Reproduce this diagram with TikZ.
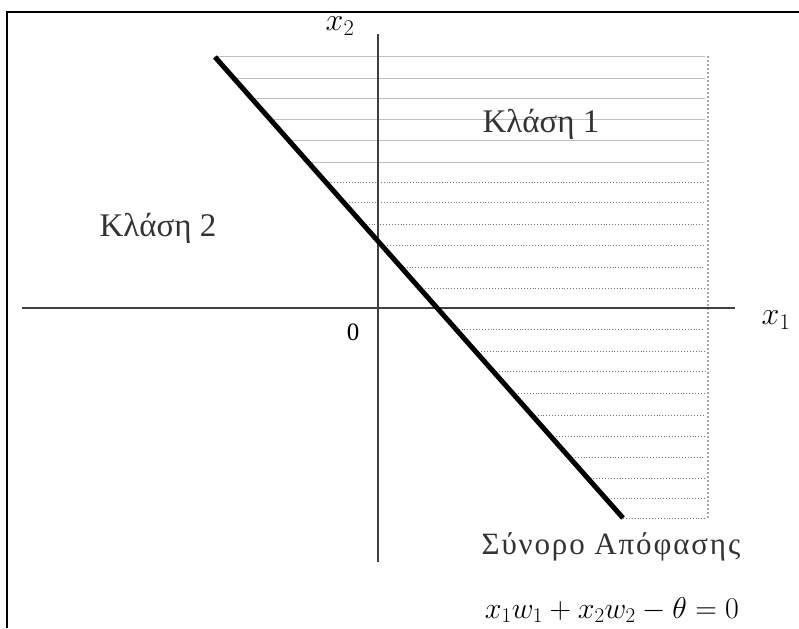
\RequirePackage{fix-cm}
\documentclass[tikz,border=0pt]{standalone}
\usepackage{fontspec}
\setmainfont{Liberation Serif}
\newfontfamily\widegreek[LetterSpace=6]{Liberation Serif}
\begin{document}
\begin{tikzpicture}[x=1pt,y=-1pt,
  frameline/.style={line width=2pt,black},
  axisline/.style={line width=2pt,black!75},
  boundline/.style={line width=5pt,black},
  hatchlight/.style={line width=0.6pt,black!25},
  hatchdot/.style={line width=0.9pt,black!55,dotted},
  lbl/.style={inner sep=0pt,font=\fontsize{33}{36}\selectfont,text=black!80}]
\useasboundingbox (0,0) rectangle (799,628);
% frame
\coordinate (fbl) at (7,628);
\coordinate (ftl) at (7,12);
\coordinate (ftr) at (799,12);
\draw[frameline] (fbl) -- (ftl) -- (ftr);
% hatching
\pgfmathsetmacro{\slope}{(518-57)/(623-215)}
\foreach \yy in {56,78,98,119,140,162}{
  \pgfmathsetmacro{\xx}{215+(\yy-57)/\slope}
  \draw[hatchlight] (\xx,\yy) -- (705,\yy);
}
\foreach \yy in {182,202,224,245,267,288,329,351,371,393,415,436,457,478,498,518}{
  \pgfmathsetmacro{\xx}{215+(\yy-57)/\slope}
  \draw[hatchdot] (\xx,\yy) -- (705,\yy);
}
\coordinate (vt) at (708,56);
\coordinate (vb) at (708,518);
\draw[line width=2pt,black!35,dotted] (vt) -- (vb);
% axes
\coordinate (xl) at (22,308);
\coordinate (xr) at (735,308);
\coordinate (yt) at (378,34);
\coordinate (yb) at (378,562);
\draw[axisline] (xl) -- (xr);
\draw[axisline] (yt) -- (yb);
% decision boundary
\coordinate (bt) at (215,57);
\coordinate (bb) at (623,518);
\draw[boundline] (bt) -- (bb);
% labels
\node (x2) at (340,26) {\fontsize{32}{34}\selectfont$x_2$};
\node (x1) at (776,320) {\fontsize{32}{34}\selectfont$x_1$};
\node (zero) at (353,332) {\fontsize{25}{26}\selectfont 0};
\node[lbl] (c1) at (541,124) {Κλάση 1};
\node[lbl] (c2) at (158,228) {Κλάση 2};
\node[lbl,font=\fontsize{31}{34}\widegreek] (sb) at (611,547) {Σύνορο Απόφασης};
\node (eq) at (612,610) {\fontsize{30}{32}\selectfont$x_1w_1+x_2w_2-\theta=0$};
\end{tikzpicture}
\end{document}
